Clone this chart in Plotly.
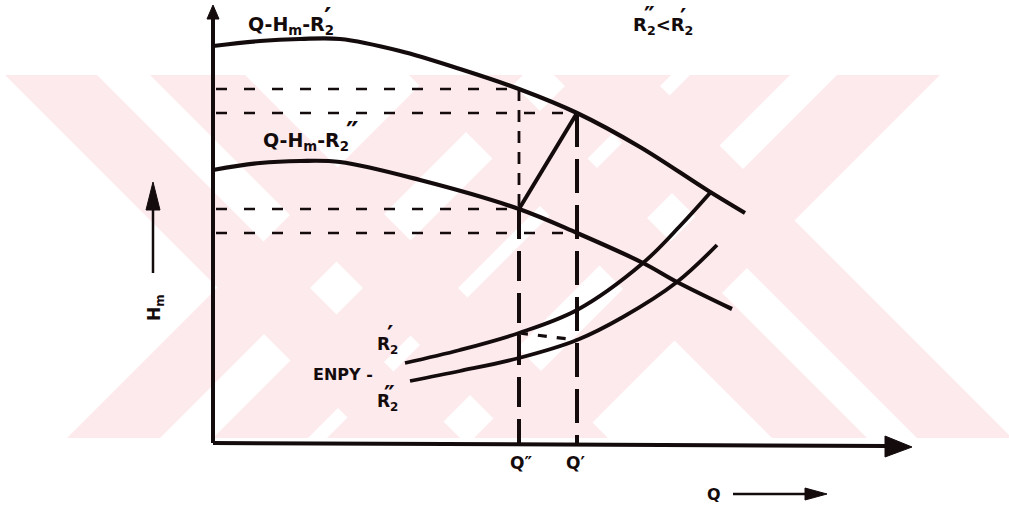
import plotly.graph_objects as go

# Pump head curves Q-Hm for two impeller radii (arbitrary units)
pump_r2p_q = [0.00, 0.47, 0.87, 1.27, 1.87, 2.47, 3.06, 3.64, 4.27, 4.94, 5.32]
pump_r2p_h = [3.97, 4.02, 4.04, 4.04, 3.92, 3.74, 3.54, 3.30, 2.96, 2.53, 2.30]

pump_r2pp_q = [0.00, 0.47, 0.87, 1.27, 2.07, 3.06, 3.64, 4.30, 4.64, 5.19]
pump_r2pp_h = [2.73, 2.80, 2.82, 2.81, 2.63, 2.34, 2.10, 1.80, 1.61, 1.34]

# ENPY curves for R2' and R2''
enpy_r2p_q = [1.92, 2.47, 3.06, 3.64, 4.30, 4.67, 4.97]
enpy_r2p_h = [0.80, 0.93, 1.10, 1.33, 1.80, 2.17, 2.50]

enpy_r2pp_q = [1.97, 2.47, 3.06, 3.64, 4.10, 4.64, 5.04]
enpy_r2pp_h = [0.62, 0.72, 0.85, 1.03, 1.26, 1.61, 1.98]

# Operating flow rates
q_dd = 3.06   # Q''
q_d = 3.64    # Q'

INK = "#140b0d"
PINK = "#fdeaed"
FONT = "DejaVu Sans"

W, H = 1009, 505


def h_at(qs, hs, q):
    return hs[qs.index(q)]


h1 = h_at(pump_r2p_q, pump_r2p_h, q_dd)
h2 = h_at(pump_r2p_q, pump_r2p_h, q_d)
h3 = h_at(pump_r2pp_q, pump_r2pp_h, q_dd)
h4 = h_at(pump_r2pp_q, pump_r2pp_h, q_d)
h5 = h_at(enpy_r2p_q, enpy_r2p_h, q_dd)
h6 = h_at(enpy_r2pp_q, enpy_r2pp_h, q_d)

fig = go.Figure()


def line(xs, ys, width=4, dash="solid", shape="linear"):
    fig.add_trace(go.Scatter(
        x=xs, y=ys, mode="lines",
        line=dict(color=INK, width=width, dash=dash, shape=shape, smoothing=1.0),
        hoverinfo="skip", showlegend=False))


def head(xs, ys):
    fig.add_trace(go.Scatter(
        x=xs, y=ys, mode="lines", fill="toself", fillcolor=INK,
        line=dict(color=INK, width=1), hoverinfo="skip", showlegend=False))


# helper dashed projections
thin = "11px,17px"
for q, hv in [(q_dd, h1), (q_d, h2), (q_dd, h3), (q_d, h4)]:
    line([0.03, q], [hv, hv], width=2.5, dash=thin)

line([q_dd, q_dd], [h1, h3], width=2.8, dash="12px,9px")
line([q_dd, q_dd], [h3, 0], width=4, dash="30px,12px")
line([q_d, q_d], [h2, 0], width=4, dash="34px,12px")
line([q_dd, q_d], [h5, h6], width=3.2, dash="9px,10px")

# link between the two operating points
line([q_dd, q_d], [h3, h2], width=4)

# curves
line(pump_r2p_q, pump_r2p_h, width=4.2, shape="spline")
line(pump_r2pp_q, pump_r2pp_h, width=4.2, shape="spline")
line(enpy_r2p_q, enpy_r2p_h, width=3.8, shape="spline")
line(enpy_r2pp_q, enpy_r2pp_h, width=3.8, shape="spline")

# axes with arrows
line([0, 0], [0, 4.27], width=4)
head([-0.06, 0.0, 0.06, -0.06], [4.24, 4.38, 4.24, 4.24])
line([0, 6.75], [0.0, -0.03], width=4)
head([6.72, 6.99, 6.72, 6.72], [0.07, -0.04, -0.14, 0.07])

# small direction arrows beside the axis titles
line([-0.60, -0.60], [1.70, 2.35], width=2.5)
head([-0.67, -0.60, -0.53, -0.67], [2.33, 2.61, 2.33, 2.33])
line([5.20, 5.95], [-0.51, -0.51], width=2.5)
head([5.92, 6.14, 5.92, 5.92], [-0.45, -0.51, -0.57, -0.45])


def txt(x, y, s, size=19, anchor="left", angle=0):
    fig.add_annotation(x=x, y=y, text="<b>" + s + "</b>", showarrow=False,
                       xanchor=anchor, yanchor="middle", textangle=angle,
                       font=dict(family=FONT, size=size, color=INK))


def prime(x, y, double=False, size=28):
    txt(x, y, "″" if double else "′", size=size, anchor="center")


txt(0.33, 4.18, "Q-H<sub>m</sub>-R<sub>2</sub>")
prime(1.14, 4.25)
txt(0.48, 3.02, "Q-H<sub>m</sub>-R<sub>2</sub>")
prime(1.39, 3.11, double=True)

txt(4.18, 4.17, "R<sub>2</sub>&lt;R<sub>2</sub>", size=18)
prime(4.36, 4.27, double=True, size=24)
prime(4.70, 4.25, size=24)

txt(1.62, 0.98, "R<sub>2</sub>", size=17)
prime(1.77, 1.08, size=24)
txt(0.98, 0.69, "ENPY -", size=16)
txt(1.62, 0.41, "R<sub>2</sub>", size=17)
prime(1.76, 0.48, double=True, size=24)

txt(-0.58, 1.35, "H<sub>m</sub>", size=17, anchor="center", angle=-90)
txt(3.08, -0.20, "Q″", size=17, anchor="center")
txt(3.62, -0.20, "Q′", size=17, anchor="center")
txt(5.01, -0.51, "Q", size=16, anchor="center")


# pale background emblem made of 45-degree stripes
def stripe(a, b, d, top=75, bottom=438):
    h = bottom - top
    pts = [(a, top), (b, top), (b + d * h, bottom), (a + d * h, bottom)]
    path = "M " + " L ".join(f"{x / W:.5f},{1 - y / H:.5f}" for x, y in pts) + " Z"
    return dict(type="path", path=path, xref="paper", yref="paper",
                fillcolor=PINK, line=dict(width=0), layer="below")


shapes = [
    stripe(5, 97, 1), stripe(150, 245, 1),
    stripe(430, 523, -1), stripe(576, 671, -1),
    stripe(690, 790, -1), stripe(837, 940, -1),
    stripe(409, 504, 1), stripe(554, 649, 1),
]

fig.update_layout(
    width=W, height=H, margin=dict(l=0, r=0, t=0, b=0),
    paper_bgcolor="white", plot_bgcolor="rgba(0,0,0,0)",
    xaxis=dict(range=[-2.13, 7.96], visible=False, fixedrange=True),
    yaxis=dict(range=[-0.62, 4.43], visible=False, fixedrange=True),
    shapes=shapes, showlegend=False,
)

fig.write_html("out.html")
